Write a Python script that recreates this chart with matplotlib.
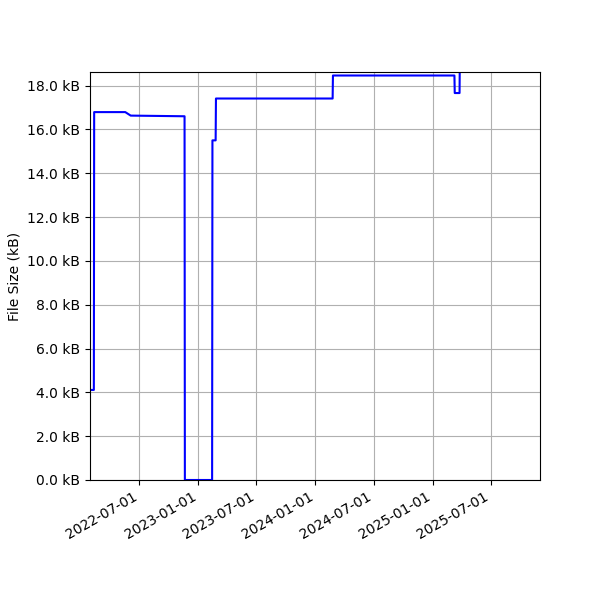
import matplotlib
matplotlib.use("Agg")
import matplotlib.pyplot as plt
import matplotlib.dates as mdates
import matplotlib.ticker as mticker
import pandas as pd

dates = ["2022-01-29", "2022-02-09", "2022-02-10", "2022-05-18", "2022-06-04",
         "2022-11-19", "2022-11-20", "2023-02-13", "2023-02-14", "2023-02-24",
         "2023-02-25", "2024-02-24", "2024-02-25", "2025-03-10", "2025-03-11",
         "2025-03-26", "2025-03-27"]
sizes_kb = [4.11, 4.11, 16.79, 16.79, 16.63,
            16.60, 0.0, 0.0, 15.5, 15.5,
            17.41, 17.41, 18.46, 18.46, 17.66,
            17.66, 19.5]

x = pd.to_datetime(dates)

fig, ax = plt.subplots(figsize=(6, 6), dpi=100)
ax.plot(x, sizes_kb, color="blue", linewidth=1.5)
ax.set_ylabel("File Size (kB)")
ax.yaxis.set_major_locator(mticker.MultipleLocator(2))
ax.yaxis.set_major_formatter(mticker.FuncFormatter(lambda v, p: f"{v:.1f} kB"))
ax.xaxis.set_major_locator(mdates.MonthLocator(bymonth=[1, 7]))
ax.xaxis.set_major_formatter(mdates.DateFormatter("%Y-%m-%d"))
ax.set_xlim(pd.Timestamp("2022-01-28"), pd.Timestamp("2025-12-02"))
ax.set_ylim(0, 18.62)
ax.grid(True)
fig.autofmt_xdate()
fig.subplots_adjust(left=0.15, right=0.9, top=0.88, bottom=0.2)
fig.savefig("out.png")
